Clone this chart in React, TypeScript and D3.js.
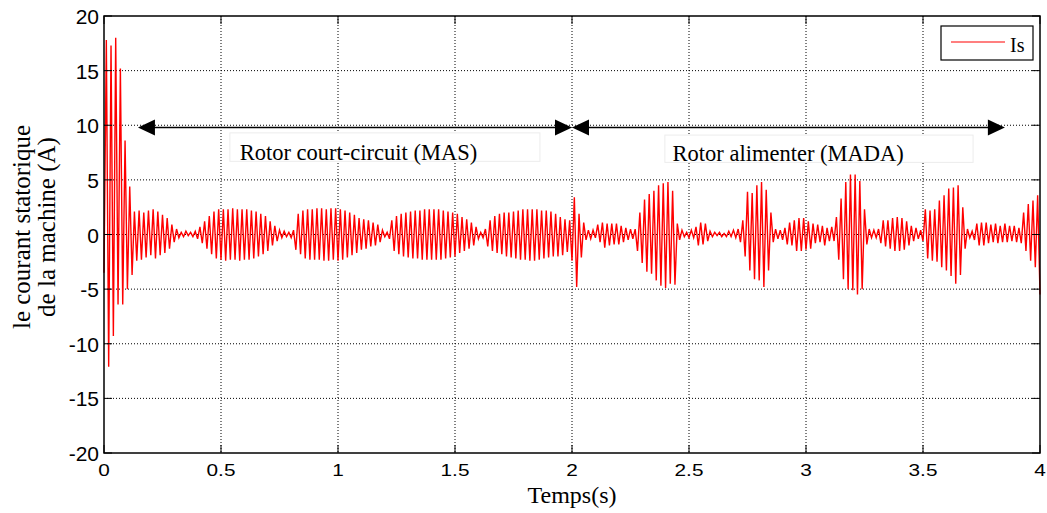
import * as d3 from "d3";

// half-cycle peaks of the stator current, one value every 10 ms
const STEP = 0.01;
const peaks0to1 = [
  -3.5,
  17.8, -12.1, 17.3, -9.3, 18.0, -6.4, 15.2, -6.4, 8.6, -5.0,
  4.4, -3.7, 2.1, -2.4, 2.2, -2.3, 2.0, -2.1, 2.2, -1.9,
  2.3, -2.2, 2.1, -1.9, 1.8, -1.7, 1.5, -1.3, 0.9, -0.7,
  0.5, -0.3, 0.2, -0.2, 0.3, -0.1, 0.2, -0.2, 0.3, -0.4,
  0.7, -0.8, 1.2, -1.3, 1.7, -1.8, 2.1, -2.2, 2.3, -2.3,
  2.3, -2.4, 2.3, -2.3, 2.4, -2.3, 2.3, -2.4, 2.3, -2.3,
  2.3, -2.3, 2.2, -2.2, 2.1, -2.0, 1.9, -1.8, 1.7, -1.5,
  1.2, -1.0, 0.8, -0.6, 0.4, -0.3, 0.3, -0.2, 0.2, -0.3,
  0.4, -1.4, 1.9, -1.8, 2.2, -2.2, 2.3, -2.3, 2.3, -2.3,
  2.4, -2.3, 2.4, -2.4, 2.3, -2.4, 2.4, -2.3, 2.4, -2.4,
];
const peaks1to2 = [
  2.3, -2.3, 2.2, -2.1, 2.0, -1.9, 1.8, -1.7, 1.5, -1.4,
  1.4, -1.3, 1.3, -1.1, 1.1, -1.0, 0.9, -0.7, 0.4, -0.2,
  0.2, -0.4, 1.3, -1.5, 1.7, -1.8, 1.9, -2.0, 2.0, -2.1,
  2.1, -2.2, 2.2, -2.2, 2.2, -2.3, 2.3, -2.3, 2.3, -2.3,
  2.3, -2.3, 2.3, -2.3, 2.2, -2.2, 2.1, -2.1, 2.0, -2.0,
  1.9, -1.7, 1.6, -1.5, 1.4, -1.3, 1.1, -1.0, 0.7, -0.4,
  0.2, -0.3, 0.5, -1.1, 1.3, -1.5, 1.7, -1.7, 1.9, -1.8,
  2.0, -2.0, 2.0, -2.1, 2.1, -2.2, 2.2, -2.3, 2.3, -2.3,
  2.3, -2.4, 2.3, -2.4, 2.3, -2.3, 2.2, -2.2, 2.2, -2.1,
  2.1, -2.0, 1.9, -2.0, 1.6, -1.9, 1.4, -1.6, 1.3, -2.4,
];
const peaks2to3 = [
  3.4, -4.8, 1.9, -2.1, 1.1, -0.5, 0.4, -0.4, 0.4, -0.3,
  0.9, -0.7, 1.1, -1.2, 1.0, -1.0, 1.0, -0.9, 1.0, -0.9,
  0.8, -0.7, 0.6, -0.5, 0.5, -0.4, 0.5, -1.5, 2.0, -2.6,
  3.2, -3.4, 3.7, -3.6, 4.0, -4.2, 4.5, -4.7, 4.7, -4.9,
  4.8, -4.5, 4.0, -4.6, 1.0, -0.5, 0.4, -0.2, 0.2, -0.3,
  0.4, -0.3, 0.7, -1.0, 1.1, -0.9, 1.0, -0.6, 0.3, -0.2,
  0.2, -0.1, 0.2, -0.2, 0.1, -0.2, 0.3, -0.2, 0.4, -0.3,
  0.5, -0.7, 1.3, -2.0, 3.9, -3.3, 3.8, -4.1, 4.5, -4.2,
  4.8, -4.8, 4.1, -3.3, 2.0, -0.7, 0.5, -0.4, 0.4, -0.5,
  0.6, -0.9, 1.1, -1.0, 1.3, -1.5, 1.5, -1.5, 1.5, -1.4,
];
const peaks3to4 = [
  1.2, -1.3, 1.0, -0.8, 0.9, -0.7, 0.8, -1.0, 0.6, -0.6,
  0.7, -0.6, 1.6, -2.3, 3.3, -4.1, 4.8, -5.0, 5.5, -5.1,
  5.5, -5.5, 4.9, -5.0, 2.3, -0.9, 0.5, -0.3, 0.4, -0.3,
  0.5, -0.8, 1.3, -1.1, 1.3, -1.3, 1.5, -1.5, 1.6, -1.5,
  1.5, -1.4, 1.2, -1.0, 0.8, -0.6, 0.6, -0.4, 0.4, -0.6,
  2.3, -2.2, 2.2, -2.4, 2.3, -2.5, 3.1, -3.0, 3.6, -3.3,
  4.2, -3.8, 4.3, -4.5, 4.5, -3.7, 2.5, -1.3, 0.5, -0.3,
  0.3, -0.5, 1.0, -1.0, 1.1, -1.0, 1.1, -0.8, 0.9, -0.7,
  1.0, -0.8, 0.8, -0.7, 1.0, -0.7, 0.8, -0.6, 0.8, -0.7,
  0.6, -0.8, 2.0, -1.5, 2.8, -2.4, 3.1, -3.0, 3.6, -5.5,
];

const xTicks = [0, 0.5, 1, 1.5, 2, 2.5, 3, 3.5, 4];
const yTicks = [-20, -15, -10, -5, 0, 5, 10, 15, 20];

// annotation arrows and labelled boxes, in data units
const arrows = [
  { from: 0.145, to: 2.0, y: 9.8 },
  { from: 2.0, to: 3.85, y: 9.8 },
];
const labels = [
  { text: "Rotor court-circuit (MAS)", x0: 0.538, x1: 1.863, yTop: 9.3, yBot: 6.7, tx: 0.58, ty: 6.85 },
  { text: "Rotor alimenter (MADA)", x0: 2.397, x1: 3.714, yTop: 9.1, yBot: 6.6, tx: 2.43, ty: 6.75 },
];

const W = 1047;
const H = 513;
const M = { left: 104, right: 1040, top: 16, bottom: 453 };
const serif = "'Liberation Serif', 'Times New Roman', serif";
const sans = "'Liberation Sans', Arial, sans-serif";

export default function App() {
  const x = d3.scaleLinear().domain([0, 4]).range([M.left, M.right]);
  const y = d3.scaleLinear().domain([-20, 20]).range([M.bottom, M.top]);

  const series = [...peaks0to1, ...peaks1to2, ...peaks2to3, ...peaks3to4];
  const points: [number, number][] = series.map((v, k) => [k * STEP, v]);
  const line = d3
    .line<[number, number]>()
    .x((d) => x(d[0]))
    .y((d) => y(d[1]));

  const tickLen = 8;
  const head = 17;
  const headHalf = 8;

  return (
    <div style={{ position: "absolute", left: 0, top: 0 }}>
      <svg width={W} height={H} style={{ display: "block", background: "#fff" }}>
        <rect x={0} y={0} width={W} height={H} fill="#fff" />

        {/* dotted grid */}
        <g stroke="#000" strokeWidth={1} strokeDasharray="1,2">
          {xTicks.slice(1, -1).map((t) => (
            <line key={"gx" + t} x1={x(t)} x2={x(t)} y1={M.top} y2={M.bottom} />
          ))}
          {yTicks.slice(1, -1).map((t) => (
            <line key={"gy" + t} x1={M.left} x2={M.right} y1={y(t)} y2={y(t)} />
          ))}
        </g>

        {/* signal */}
        <path d={line(points) || ""} fill="none" stroke="#ff0000" strokeWidth={1.4} strokeLinejoin="miter" />

        {/* arrows */}
        {arrows.map((a, i) => {
          const ax0 = x(a.from);
          const ax1 = x(a.to);
          const ay = y(a.y);
          return (
            <g key={"ar" + i}>
              <line x1={ax0 + 4} x2={ax1 - 4} y1={ay} y2={ay} stroke="#000" strokeWidth={1.5} />
              <path d={`M${ax0},${ay} L${ax0 + head},${ay - headHalf} L${ax0 + head},${ay + headHalf} Z`} fill="#000" />
              <path d={`M${ax1},${ay} L${ax1 - head},${ay - headHalf} L${ax1 - head},${ay + headHalf} Z`} fill="#000" />
            </g>
          );
        })}

        {/* labelled boxes */}
        {labels.map((l, i) => (
          <g key={"lb" + i}>
            <rect
              x={x(l.x0)}
              y={y(l.yTop)}
              width={x(l.x1) - x(l.x0)}
              height={y(l.yBot) - y(l.yTop)}
              fill="#fff"
              stroke="#ececec"
              strokeWidth={1}
            />
            <text x={x(l.tx)} y={y(l.ty)} fontFamily={serif} fontSize={22.5} fill="#000">
              {l.text}
            </text>
          </g>
        ))}

        {/* axes box and ticks */}
        <rect x={M.left} y={M.top} width={M.right - M.left} height={M.bottom - M.top} fill="none" stroke="#000" strokeWidth={1.5} />
        <g stroke="#000" strokeWidth={1}>
          {xTicks.map((t) => (
            <g key={"tx" + t}>
              <line x1={x(t)} x2={x(t)} y1={M.bottom} y2={M.bottom - tickLen} />
              <line x1={x(t)} x2={x(t)} y1={M.top} y2={M.top + tickLen} />
            </g>
          ))}
          {yTicks.map((t) => (
            <g key={"ty" + t}>
              <line x1={M.left} x2={M.left + tickLen} y1={y(t)} y2={y(t)} />
              <line x1={M.right} x2={M.right - tickLen} y1={y(t)} y2={y(t)} />
            </g>
          ))}
        </g>
        <g fontFamily={sans} fill="#000">
          {xTicks.map((t) => (
            <text
              key={"lx" + t}
              transform={`translate(${x(t)}, ${M.bottom + 23}) scale(1.3, 1)`}
              fontSize={16}
              textAnchor="middle"
            >
              {String(t)}
            </text>
          ))}
          {yTicks.map((t) => (
            <text key={"ly" + t} x={M.left - 5} y={y(t) + 8} fontSize={21} textAnchor="end">
              {String(t)}
            </text>
          ))}
        </g>

        {/* axis titles */}
        <text x={x(2)} y={503} textAnchor="middle" fontFamily={serif} fontSize={24} fill="#000">
          Temps(s)
        </text>
        <g transform="translate(30, 227) rotate(-90)" fontFamily={serif} fontSize={25} fill="#000">
          <text x={0} y={0} textAnchor="middle">
            le courant statorique
          </text>
          <text x={0} y={25} textAnchor="middle">
            de la machine (A)
          </text>
        </g>

        {/* legend */}
        <rect x={941} y={26} width={92} height={34} fill="#fff" stroke="#000" strokeWidth={1.2} />
        <line x1={951} x2={1005} y1={42} y2={42} stroke="#ff0000" strokeWidth={1.2} />
        <text x={1010} y={52} fontFamily={serif} fontSize={20} fill="#000">
          Is
        </text>
      </svg>
    </div>
  );
}
